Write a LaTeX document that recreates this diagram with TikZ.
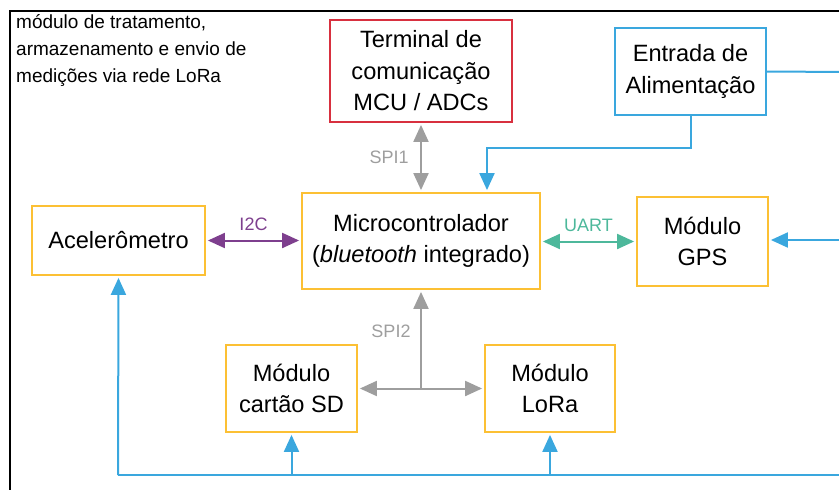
\documentclass[tikz,border=0pt]{standalone}
\usepackage{fontspec}
\setmainfont{Liberation Sans}
\usetikzlibrary{arrows.meta}
\definecolor{lblue}{HTML}{3AA7DE}
\definecolor{lorange}{HTML}{FCC034}
\definecolor{lred}{HTML}{D8303F}
\definecolor{lpurple}{HTML}{7E3F8E}
\definecolor{lgreen}{HTML}{4DB89B}
\definecolor{lgray}{HTML}{9E9E9E}
\tikzset{
	box/.style={draw,line width=1.8pt,fill=white,align=center,inner sep=0pt,
		font=\fontsize{23.6}{31.5}\selectfont},
	link/.style={line width=2pt,
		arrows={-Triangle[length=17pt,width=15pt]},shorten >=2pt,shorten <=2pt},
	duplex/.style={link,arrows={Triangle[length=17pt,width=15pt]-Triangle[length=17pt,width=15pt]}},
	tag/.style={font=\fontsize{18}{22}\selectfont}
}
\begin{document}
\begin{tikzpicture}[x=1pt,y=-1pt]
	\useasboundingbox (0,0) rectangle (839,490);
	\draw[line width=2pt] (10,495) -- (10,11) -- (845,11);
	\node[anchor=north west,align=left,inner sep=0pt,font=\fontsize{19}{27}\selectfont] (title) at (16,14.5)
	{módulo de tratamento,\\armazenamento e envio de\\medições via rede LoRa};
	% blocos
	\node[box,draw=lred,minimum width=182,minimum height=102] (term) at (421,71) {Terminal de\\comunicação\\MCU / ADCs};
	\node[box,draw=lblue,minimum width=151,minimum height=87] (power) at (690.5,71.5) {Entrada de\\Alimentação};
	\node[box,draw=lorange,minimum width=238,minimum height=96] (mcu) at (421,241) {Microcontrolador\\(\textit{bluetooth} integrado)};
	\node[box,draw=lorange,minimum width=173,minimum height=69] (accel) at (118.5,240.5) {Acelerômetro};
	\node[box,draw=lorange,minimum width=131,minimum height=89] (gps) at (702.5,241.5) {Módulo\\GPS};
	\node[box,draw=lorange,minimum width=131,minimum height=87] (sdcard) at (291.5,388.5) {Módulo\\cartão SD};
	\node[box,draw=lorange,minimum width=130,minimum height=87] (lora) at (550,388.5) {Módulo\\LoRa};
	% pontos auxiliares
	\coordinate (pwbend) at (487,148);
	\coordinate (pwout) at (845,72);
	\coordinate (gpsin) at (845,240);
	\coordinate (busl) at (118,475);
	\coordinate (busr) at (845,475);
	\coordinate (spijoin) at (421,388.5);
	% barramentos
	\draw[duplex,lgray] (mcu.north) -- (term.south) node[pos=0.5,left=8pt,tag,text=lgray] (spi1) {SPI1};
	\draw[duplex,lpurple] (accel.east) -- (accel.east -| mcu.west) node[midway,above=5pt,tag,text=lpurple] (i2c) {I2C};
	\draw[duplex,lgreen] (mcu.east |- gps.west) -- (gps.west) node[midway,above=5pt,tag,text=lgreen] (uart) {UART};
	\draw[link,lgray,shorten <=0pt] (spijoin) -- (mcu.south);
	\node[tag,text=lgray] (spi2) at (391,331) {SPI2};
	\draw[duplex,lgray] (sdcard.east) -- (lora.west);
	% alimentacao
	\draw[link,lblue,shorten <=0pt] (power.south) |- (pwbend) -- (pwbend |- mcu.north);
	\draw[line width=2pt,lblue] (power.east) -- (pwout);
	\draw[link,lblue,shorten <=0pt] (gpsin) -- (gpsin -| gps.east);
	\draw[line width=2pt,lblue] (busl) -- (busr);
	\draw[link,lblue,shorten <=0pt] (busl) -- (accel.south);
	\draw[link,lblue,shorten <=0pt] (sdcard.south |- busl) -- (sdcard.south);
	\draw[link,lblue,shorten <=0pt] (lora.south |- busl) -- (lora.south);
\end{tikzpicture}
\end{document}
